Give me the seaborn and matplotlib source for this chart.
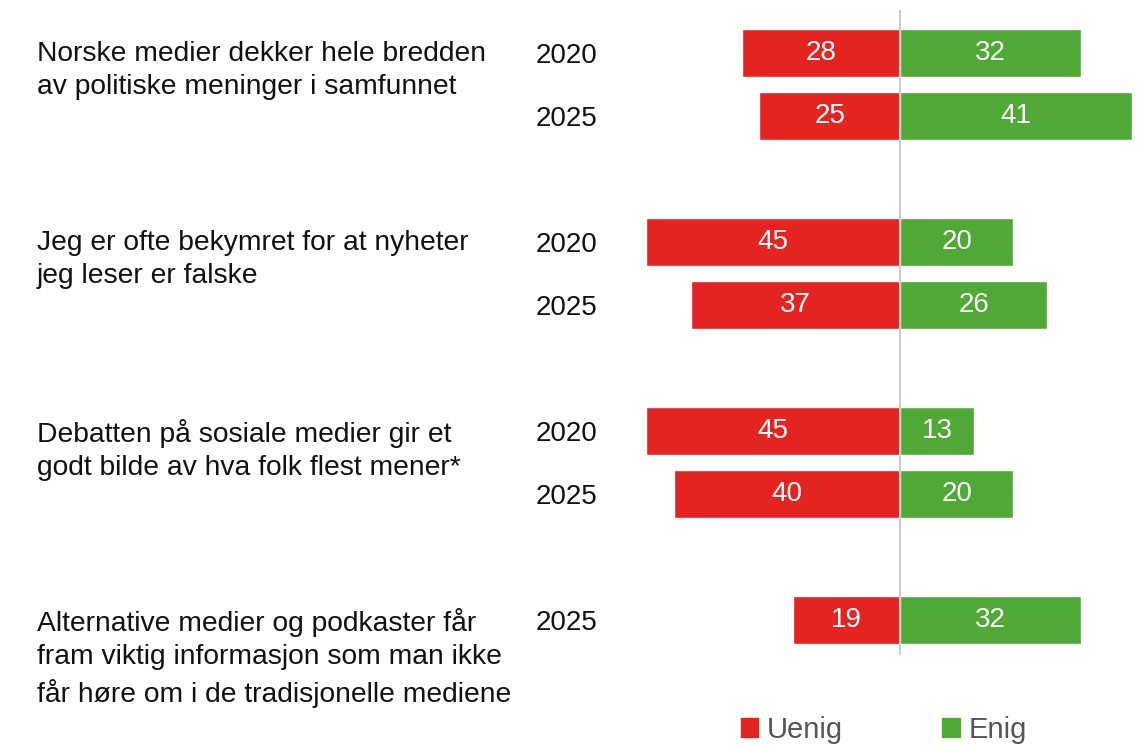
import pandas as pd
import numpy as np
import matplotlib.pyplot as plt
import matplotlib.transforms as mtransforms
from matplotlib.patches import Patch
import seaborn as sns

# data
statements = [
    "Norske medier dekker hele bredden\nav politiske meninger i samfunnet",
    "Jeg er ofte bekymret for at nyheter\njeg leser er falske",
    "Debatten på sosiale medier gir et\ngodt bilde av hva folk flest mener*",
    "Alternative medier og podkaster får\nfram viktig informasjon som man ikke\nfår høre om i de tradisjonelle mediene",
]
years = [["2020", "2025"], ["2020", "2025"], ["2020", "2025"], ["2025"]]
uenig = [28, 25, 45, 37, 45, 40, 19]
enig = [32, 41, 20, 26, 13, 20, 32]

red = '#E42421'
green = '#50A836'

rows = []
order = []
for i, yrs in enumerate(years):
    if i > 0:
        order.append(f'gap{i}')
    for y in yrs:
        rows.append((f'{i}-{y}', i, y))
        order.append(f'{i}-{y}')

df = pd.DataFrame(rows, columns=['row', 'group', 'year'])
df['Uenig'] = [-v for v in uenig]
df['Enig'] = enig

sns.set_style('white')
plt.rcParams['font.family'] = ['Liberation Sans', 'DejaVu Sans']

fig = plt.figure(figsize=(11.38, 7.45), dpi=100)
ax = fig.add_axes([620 / 1138, 90 / 745, 518 / 1138, 645 / 745])

sns.barplot(data=df, y='row', x='Uenig', order=order, orient='h', color=red,
            saturation=1, width=0.76, errorbar=None, ax=ax)
sns.barplot(data=df, y='row', x='Enig', order=order, orient='h', color=green,
            saturation=1, width=0.76, errorbar=None, ax=ax)

for c in ax.containers:
    ax.bar_label(c, fmt=lambda v: f'{abs(v):.0f}', label_type='center',
                 color='white', fontsize=20, padding=0)

ax.axvline(0, color='#cccccc', lw=1.5, zorder=5)
ax.set_xlim(-49.6, 42.1)
ax.set_ylim(9.56, -0.68)

ticklabels = [r.split('-')[1] if '-' in r else '' for r in order]
ax.set_yticks(range(len(order)))
ax.set_yticklabels(ticklabels, fontsize=20, color='#111111')
ax.tick_params(axis='y', length=0, pad=16)
ax.set_xticks([])
ax.set_xlabel('')
ax.set_ylabel('')
sns.despine(ax=ax, left=True, bottom=True)

trans = mtransforms.blended_transform_factory(fig.transFigure, ax.transData)
for i, s in enumerate(statements):
    pos = order.index(f'{i}-{years[i][0]}')
    ax.text(37 / 1138, pos - 0.19, s, transform=trans, ha='left', va='top',
            fontsize=20.3, color='#111111', linespacing=1.38)

handles = [Patch(color=red, label='Uenig'), Patch(color=green, label='Enig')]
fig.legend(handles=handles, loc='center', bbox_to_anchor=(884 / 1138, 15 / 745),
           ncol=2, frameon=False, fontsize=21, labelcolor='#555555',
           handlelength=0.6, handleheight=0.6, handletextpad=0.3,
           columnspacing=3.4)

fig.savefig('out.png', dpi=100)
